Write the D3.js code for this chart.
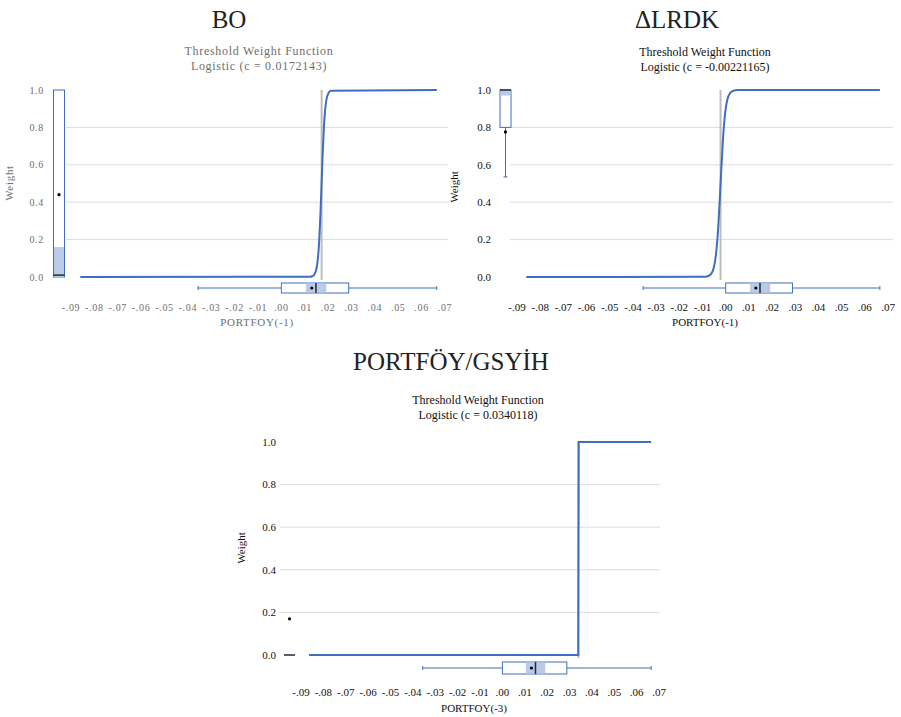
<!DOCTYPE html>
<html>
  <head>
    <meta charset="utf-8" />
    <title>Threshold Weight Function</title>
    <script src="https://d3js.org/d3.v7.min.js"></script>
    <style>
      body { margin: 0; background: #fff; }
    </style>
  </head>
  <body>
    <div id="chart"></div>
    <script>
      // tick values and labels shared by the three panels
      var xTicks = [-0.09, -0.08, -0.07, -0.06, -0.05, -0.04, -0.03, -0.02, -0.01,
                    0.0, 0.01, 0.02, 0.03, 0.04, 0.05, 0.06, 0.07];
      var xTickLabels = ["-.09", "-.08", "-.07", "-.06", "-.05", "-.04", "-.03", "-.02", "-.01",
                         ".00", ".01", ".02", ".03", ".04", ".05", ".06", ".07"];
      var yTicks = [0.0, 0.2, 0.4, 0.6, 0.8, 1.0];
      var yTickLabels = ["0.0", "0.2", "0.4", "0.6", "0.8", "1.0"];
      var gridTicks = [0.2, 0.4, 0.6, 0.8];

      // threshold values
      var boC = 0.0172143;
      var lrdkC = -0.00221165;
      var portC = 0.0340118;

      // weight curves
      var boX = [-0.086, 0.0122, 0.0132, 0.0142, 0.0152, 0.0157, 0.0162, 0.0167, 0.0172,
                 0.0177, 0.0182, 0.0187, 0.0192, 0.0202, 0.0212, 0.0665];
      var boW = [0, 0.001, 0.004, 0.015, 0.057, 0.109, 0.198, 0.332, 0.5,
                 0.668, 0.802, 0.891, 0.943, 0.985, 0.996, 1];
      var lrdkX = [-0.086, -0.0097, -0.0077, -0.0062, -0.0052, -0.0042, -0.0032, -0.0022,
                   -0.0012, -0.0002, 0.0008, 0.0018, 0.0033, 0.0053, 0.0665];
      var lrdkW = [0, 0.001, 0.004, 0.018, 0.047, 0.119, 0.269, 0.5,
                   0.731, 0.881, 0.953, 0.982, 0.996, 1, 1];
      var portX = [-0.0864, 0.0339, 0.0341, 0.0665];
      var portW = [0, 0, 1, 1];

      // box plots: [whiskerLo, q1, ciLo, median, ciHi, q3, whiskerHi]
      var portfoyBox = [-0.0356, 0.0, 0.0105, 0.0148, 0.0192, 0.0288, 0.0665];
      var portfoyMean = 0.0130;
      var boWeightBox = [0, 0, 0, 0.01, 0.16, 1, 1];
      var boWeightMean = 0.44;
      var lrdkWeightBox = [0.535, 0.8, 0.97, 1.0, 1.0, 1.0, 1.0];
      var lrdkWeightMean = 0.776;
      var portWeightBox = [0, 0, 0, 0, 0, 0, 0];
      var portWeightMean = 0.17;

      var width = 901;
      var height = 717;
      var blue = "#3d6fbf";
      var shade = "#b9cbe6";
      var serif = "'Liberation Serif', 'Times New Roman', Times, serif";

      var svg = d3
        .select("#chart")
        .append("svg")
        .attr("width", width)
        .attr("height", height)
        .attr("font-family", serif);

      var panels = [
        {
          title: "BO", sub: "Logistic (c = 0.0172143)", xlab: "PORTFOY(-1)",
          xs: boX, ws: boW, c: boC, curve: d3.curveMonotoneX,
          yBox: boWeightBox, yMean: boWeightMean,
          xr: [71, 445], yr: [277, 90], grid: [66, 448],
          yLabX: 44, tickY: 311, titlePos: [229, 28], subPos: [259, 55],
          xlabPos: [257, 326], ylabPos: [13, 183], yBoxX: 59, xBoxY: 288, xBoxH: 10,
          ink: "#6e6e6e", fs: 10, spacing: "0.7px"
        },
        {
          title: "\u0394LRDK", sub: "Logistic (c = -0.00221165)", xlab: "PORTFOY(-1)",
          xs: lrdkX, ws: lrdkW, c: lrdkC, curve: d3.curveMonotoneX,
          yBox: lrdkWeightBox, yMean: lrdkWeightMean,
          xr: [517, 888], yr: [277, 90], grid: [510, 893],
          yLabX: 491, tickY: 311, titlePos: [677, 28], subPos: [705, 56],
          xlabPos: [705, 326], ylabPos: [458, 187], yBoxX: 505.5, xBoxY: 288, xBoxH: 10,
          ink: "#111", fs: 11, spacing: "0px"
        },
        {
          title: "PORTF\u00D6Y/GSY\u0130H", sub: "Logistic (c = 0.0340118)", xlab: "PORTFOY(-3)",
          xs: portX, ws: portW, c: portC, curve: d3.curveLinear,
          yBox: portWeightBox, yMean: portWeightMean,
          xr: [301, 659], yr: [655, 442], grid: [280, 660],
          yLabX: 276, tickY: 696, titlePos: [451, 370], subPos: [478, 404],
          xlabPos: [474, 712], ylabPos: [245, 548], yBoxX: 289.5, xBoxY: 668, xBoxH: 12,
          ink: "#111", fs: 11, spacing: "0px"
        }
      ];

      panels.forEach(drawPanel);

      function drawPanel(p) {
        var x = d3.scaleLinear().domain([-0.09, 0.07]).range(p.xr);
        var y = d3.scaleLinear().domain([0, 1]).range(p.yr);
        var g = svg.append("g");

        // titles
        g.append("text")
          .attr("x", p.titlePos[0]).attr("y", p.titlePos[1])
          .attr("text-anchor", "middle")
          .attr("font-size", 25).attr("fill", "#222")
          .text(p.title);
        g.append("text")
          .attr("x", p.subPos[0]).attr("y", p.subPos[1])
          .attr("text-anchor", "middle").attr("font-size", 12)
          .attr("fill", p.ink).style("letter-spacing", p.spacing)
          .text("Threshold Weight Function");
        g.append("text")
          .attr("x", p.subPos[0]).attr("y", p.subPos[1] + 15)
          .attr("text-anchor", "middle").attr("font-size", 12)
          .attr("fill", p.ink).style("letter-spacing", p.spacing)
          .text(p.sub);

        // gridlines
        g.selectAll(".grid")
          .data(gridTicks)
          .enter()
          .append("line")
          .attr("x1", p.grid[0]).attr("x2", p.grid[1])
          .attr("y1", function (d) { return y(d); })
          .attr("y2", function (d) { return y(d); })
          .attr("stroke", "#dcdcdc").attr("stroke-width", 1);

        // y axis labels
        g.selectAll(".ytick")
          .data(yTicks)
          .enter()
          .append("text")
          .attr("x", p.yLabX)
          .attr("y", function (d) { return y(d); })
          .attr("dy", "0.35em")
          .attr("text-anchor", "end")
          .attr("font-size", p.fs).attr("fill", p.ink)
          .style("letter-spacing", p.spacing)
          .text(function (d, i) { return yTickLabels[i]; });

        // x axis labels
        g.selectAll(".xtick")
          .data(xTicks)
          .enter()
          .append("text")
          .attr("x", function (d) { return x(d); })
          .attr("y", p.tickY)
          .attr("text-anchor", "middle")
          .attr("font-size", p.fs).attr("fill", p.ink)
          .style("letter-spacing", p.spacing)
          .text(function (d, i) { return xTickLabels[i]; });

        g.append("text")
          .attr("x", p.xlabPos[0]).attr("y", p.xlabPos[1])
          .attr("text-anchor", "middle").attr("font-size", 11)
          .attr("fill", p.ink).style("letter-spacing", p.spacing)
          .text(p.xlab);
        g.append("text")
          .attr("transform", "translate(" + p.ylabPos[0] + "," + p.ylabPos[1] + ") rotate(-90)")
          .attr("text-anchor", "middle").attr("font-size", 11)
          .attr("fill", p.ink).style("letter-spacing", p.spacing)
          .text("Weight");

        // threshold line
        g.append("line")
          .attr("x1", x(p.c)).attr("x2", x(p.c))
          .attr("y1", y(1)).attr("y2", y(0) + 3)
          .attr("stroke", "#bdbdbd").attr("stroke-width", 2);

        // weight curve
        var pts = p.xs.map(function (v, i) { return [v, p.ws[i]]; });
        var line = d3.line()
          .x(function (d) { return x(d[0]); })
          .y(function (d) { return y(d[1]); })
          .curve(p.curve);
        g.append("path")
          .datum(pts)
          .attr("d", line)
          .attr("fill", "none")
          .attr("stroke", blue)
          .attr("stroke-width", 2);

        // horizontal box plot of the threshold variable
        drawBox(g, portfoyBox, portfoyMean, x, p.xBoxY, p.xBoxH, true);
        // vertical box plot of the weights
        drawBox(g, p.yBox, p.yMean, y, p.yBoxX, 11, false);
      }

      function drawBox(g, b, mean, s, c, h, horiz) {
        var half = h / 2;
        function seg(a1, a2, o1, o2) {
          var l = g.append("line");
          if (horiz) l.attr("x1", s(a1)).attr("x2", s(a2)).attr("y1", c + o1).attr("y2", c + o2);
          else l.attr("y1", s(a1)).attr("y2", s(a2)).attr("x1", c + o1).attr("x2", c + o2);
          return l.attr("stroke", blue).attr("stroke-width", 1);
        }
        function rect(a1, a2, inset) {
          var lo = Math.min(s(a1), s(a2));
          var len = Math.abs(s(a2) - s(a1));
          var r = g.append("rect");
          if (horiz) r.attr("x", lo).attr("width", len).attr("y", c - half + inset).attr("height", h - 2 * inset);
          else r.attr("y", lo).attr("height", len).attr("x", c - half + inset).attr("width", h - 2 * inset);
          return r;
        }
        // whiskers
        if (b[0] < b[1]) {
          seg(b[0], b[1], 0, 0);
          seg(b[0], b[0], -2, 2);
        }
        if (b[6] > b[5]) {
          seg(b[5], b[6], 0, 0);
          seg(b[6], b[6], -2, 2);
        }
        // box
        rect(b[1], b[5], 0).attr("fill", "#fff").attr("stroke", blue).attr("stroke-width", 1);
        rect(b[2], b[4], 0.5).attr("fill", shade);
        // median
        seg(b[3], b[3], -half, half).attr("stroke", "#1c2a44").attr("stroke-width", 1.5);
        // mean
        g.append("circle")
          .attr("cx", horiz ? s(mean) : c)
          .attr("cy", horiz ? c : s(mean))
          .attr("r", 1.6)
          .attr("fill", "#000");
      }
    </script>
  </body>
</html>
